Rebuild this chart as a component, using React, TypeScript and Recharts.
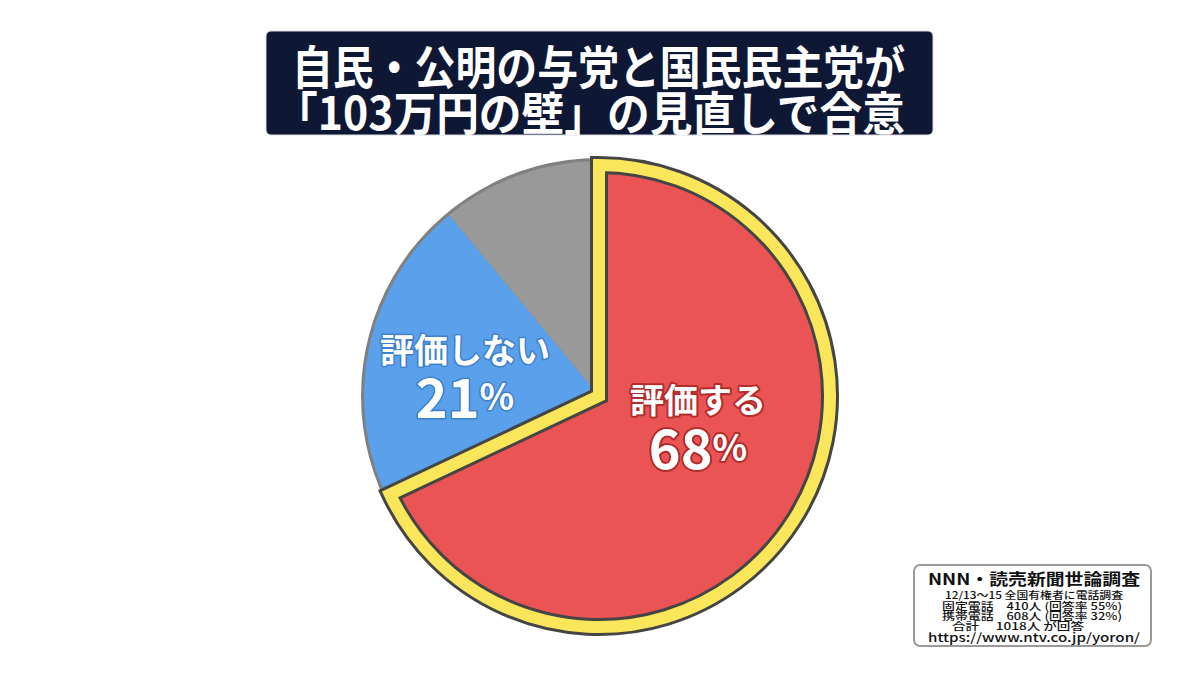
import React from 'react';
import { PieChart, Pie, Cell } from 'recharts';

const categories = ['評価する', '評価しない', 'その他・わからない'];
const values = [68, 21, 11];
const percentLabels = ['68', '21', ''];

const titleLines = ['自民・公明の与党と国民民主党が', '「103万円の壁」の見直しで合意'];
const sourceLines = [
  'NNN・読売新聞世論調査',
  '12/13〜15 全国有権者に電話調査',
  '固定電話　410人 (回答率 55%)',
  '携帯電話　608人 (回答率 32%)',
  '合計　 1018人 が回答',
  'https://www.ntv.co.jp/yoron/',
];

const data = categories.map((name, i) => ({ name, value: values[i], pct: percentLabels[i] }));
const ring = [{ name: 'ring', value: 1 }];

const RED = '#eb5454';
const BLUE = '#5aa0ea';
const GRAY = '#999999';
const YELLOW = '#f9e65a';
const DARK = '#454545';
const FONT = '"Noto Sans CJK JP", "Noto Sans", sans-serif';

const CX = 599;
const CY = 396;

// label placement relative to pie center (dx, dy of name line, gap to value line)
const labelPlacement = [
  { dx: 99, dy: 2, gap: 47, outline: '#b32c2c', outlineW: 4 },
  { dx: -134, dy: -48, gap: 46, outline: '#3d80cc', outlineW: 3 },
  null,
];

// source box line layout: x center, y center, font size, length, weight
const sourceLayout = [
  { x: 1034, y: 578, size: 16, len: 212, weight: 700 },
  { x: 1034, y: 594, size: 10, len: 178, weight: 500 },
  { x: 1032, y: 605, size: 10, len: 180, weight: 500 },
  { x: 1032, y: 615, size: 10, len: 180, weight: 500 },
  { x: 1018, y: 625, size: 10, len: 132, weight: 500 },
  { x: 1034, y: 636, size: 12, len: 212, weight: 500 },
];

const renderLabel = (props: any) => {
  const { cx, cy, index, payload } = props;
  const p = labelPlacement[index];
  if (!p) return null;
  const x = cx + p.dx;
  const y = cy + p.dy;
  const name = payload?.name ?? categories[index];
  const pct = payload?.pct ?? percentLabels[index];
  return (
    <g key={`lbl-${index}`}>
      <text
        x={x}
        y={y}
        textAnchor="middle"
        dominantBaseline="central"
        fill="#ffffff"
        stroke={p.outline}
        strokeWidth={p.outlineW}
        paintOrder="stroke"
        strokeLinejoin="round"
        fontFamily={FONT}
        fontWeight={700}
        fontSize={34}
      >
        {name}
      </text>
      <text
        x={x}
        y={y + p.gap}
        textAnchor="middle"
        dominantBaseline="central"
        fill="#ffffff"
        stroke={p.outline}
        strokeWidth={p.outlineW}
        paintOrder="stroke"
        strokeLinejoin="round"
        fontFamily={FONT}
        fontWeight={700}
        fontSize={54}
      >
        {pct}
        <tspan fontSize={36}>%</tspan>
      </text>
    </g>
  );
};

export default function App() {
  return (
    <div style={{ position: 'absolute', left: 0, top: 0, width: 1200, height: 675, background: '#ffffff', overflow: 'hidden' }}>
      <div style={{ position: 'absolute', left: 0, top: 0 }}>
        <PieChart width={1200} height={675} margin={{ top: 0, right: 0, bottom: 0, left: 0 }}>
          {/* gray outline disc */}
          <Pie
            data={ring}
            dataKey="value"
            cx={CX}
            cy={CY}
            outerRadius={238}
            startAngle={90}
            endAngle={-270}
            stroke="none"
            fill="#808080"
            isAnimationActive={false}
          />
          {/* blue and gray fills */}
          <Pie
            data={data}
            dataKey="value"
            cx={CX}
            cy={CY}
            outerRadius={235}
            startAngle={90}
            endAngle={-270}
            stroke="none"
            isAnimationActive={false}
          >
            <Cell fill="none" stroke="none" />
            <Cell fill={BLUE} stroke="none" />
            <Cell fill={GRAY} stroke="none" />
          </Pie>
          {/* red fill */}
          <Pie
            data={data}
            dataKey="value"
            cx={CX}
            cy={CY}
            outerRadius={231}
            startAngle={90}
            endAngle={-270}
            stroke="none"
            isAnimationActive={false}
          >
            <Cell fill={RED} stroke="none" />
            <Cell fill="none" stroke="none" />
            <Cell fill="none" stroke="none" />
          </Pie>
          {/* dark outline */}
          <Pie
            data={data}
            dataKey="value"
            cx={CX}
            cy={CY}
            outerRadius={231}
            startAngle={90}
            endAngle={-270}
            isAnimationActive={false}
          >
            <Cell fill="none" stroke={DARK} strokeWidth={18} strokeLinejoin="miter" />
            <Cell fill="none" stroke="none" />
            <Cell fill="none" stroke="none" />
          </Pie>
          {/* yellow band */}
          <Pie
            data={data}
            dataKey="value"
            cx={CX}
            cy={CY}
            outerRadius={231}
            startAngle={90}
            endAngle={-270}
            label={renderLabel}
            labelLine={false}
            isAnimationActive={false}
          >
            <Cell fill="none" stroke={YELLOW} strokeWidth={12} strokeLinejoin="miter" />
            <Cell fill="none" stroke="none" />
            <Cell fill="none" stroke="none" />
          </Pie>
        </PieChart>
      </div>
      <svg
        width={1200}
        height={675}
        style={{ position: 'absolute', left: 0, top: 0, pointerEvents: 'none' }}
      >
        <rect x={266} y={31} width={667} height={104} rx={5} fill="#0e1734" stroke="#d8dbe2" strokeWidth={1} />
        <text
          x={598.5}
          y={64}
          textAnchor="middle"
          dominantBaseline="central"
          fill="#ffffff"
          fontFamily={FONT}
          fontWeight={700}
          fontSize={46}
          textLength={613}
          lengthAdjust="spacingAndGlyphs"
        >
          {titleLines[0]}
        </text>
        <text
          x={590}
          y={110}
          textAnchor="middle"
          dominantBaseline="central"
          fill="#ffffff"
          fontFamily={FONT}
          fontWeight={700}
          fontSize={46}
          textLength={630}
          lengthAdjust="spacingAndGlyphs"
        >
          {titleLines[1]}
        </text>

        <rect x={914} y={565} width={237} height={81} rx={6} fill="#ffffff" stroke="#9a9a9a" strokeWidth={2} />
        <text
          textAnchor="middle"
          dominantBaseline="central"
          fill="#111"
          fontFamily={FONT}
          lengthAdjust="spacingAndGlyphs"
        >
          {sourceLines.map((line, i) => {
            const l = sourceLayout[i];
            return (
              <tspan
                key={i}
                x={l.x}
                y={l.y}
                fontSize={l.size}
                fontWeight={l.weight}
                textLength={l.len}
                lengthAdjust="spacingAndGlyphs"
              >
                {line}
              </tspan>
            );
          })}
        </text>
      </svg>
    </div>
  );
}
